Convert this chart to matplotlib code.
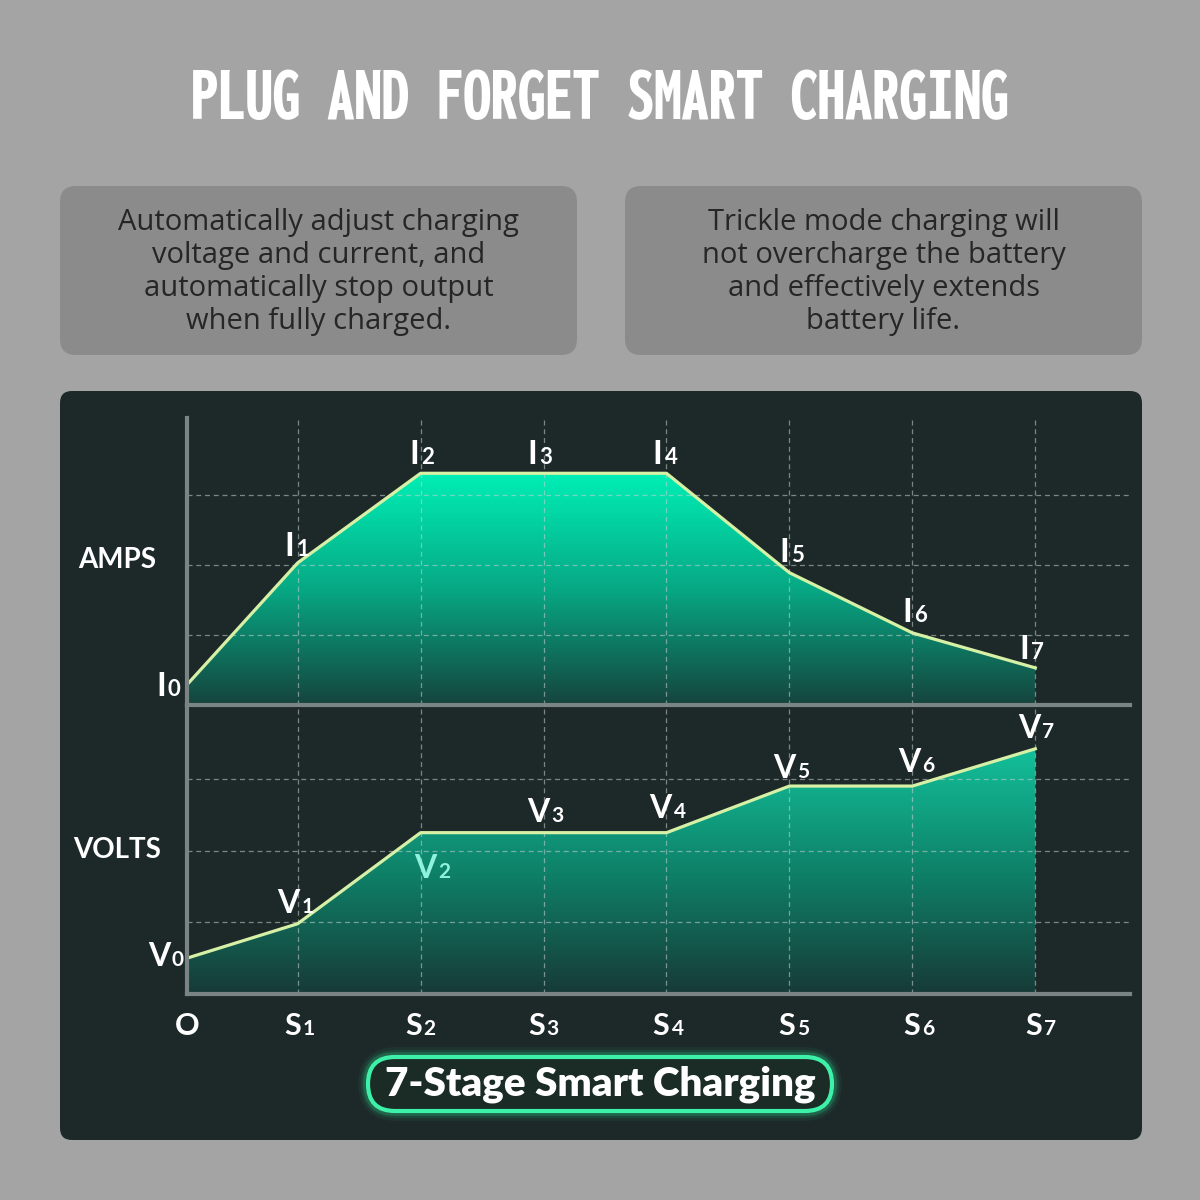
"""7-stage smart charging infographic."""

import matplotlib

matplotlib.use("Agg")
import matplotlib.pyplot as plt
import numpy as np
from matplotlib import font_manager
from matplotlib.colors import LinearSegmentedColormap
from matplotlib.patches import FancyBboxPatch, Polygon

plt.rcParams["font.family"] = ["Lato", "DejaVu Sans"]

# ---- data ----
stages = ["O", "S", "S", "S", "S", "S", "S", "S"]
stage_digits = ["", "1", "2", "3", "4", "5", "6", "7"]
stage_x = [0.1, 1, 2, 3, 4, 5, 6, 7]

amps = [0.29, 2.03, 3.31, 3.31, 3.31, 1.89, 1.03, 0.53]
volts = [0.50, 0.98, 2.25, 2.25, 2.25, 2.90, 2.90, 3.42]
point_digits = ["0", "1", "2", "3", "4", "5", "6", "7"]

title = "PLUG AND FORGET SMART CHARGING"
note_left = "Automatically adjust charging\nvoltage and current, and\nautomatically stop output\nwhen fully charged."
note_right = "Trickle mode charging will\nnot overcharge the battery\nand effectively extends\nbattery life."
badge = "7-Stage Smart Charging"

# label offsets in pixels (split point between letter and digit, baseline)
amp_offsets = [(-20, -11), (-2, 7), (0, 9), (-5, 9), (-3, 9), (1, 11), (1, 11), (-5, 9)]
volt_offsets = [(-16, -8), (3, 11), (17, -45), (7, 11), (6, 15), (7, 8), (9, 14), (6, 11)]
stage_dx = [0, 4, 2, 2, 4, 7, 9, 8]

BG = "#a4a4a4"
BOX = "#8b8b8b"
PANEL = "#1d2929"
LINE = "#d6f0a6"
AXIS = "#7b8484"
GRID = "#c9d2d2"
W = 1200


def condensed_font():
    """找一个最窄最粗的字体给标题用，没有就退回 DejaVu Sans 粗体。"""
    prefs = ["ExtraCondensedBlack", "ExtraCondensedExtraBold", "ExtraCondensedBold",
             "CondensedBlack", "Narrow-Bold", "NarrowBold", "CondensedExtraBold",
             "Condensed-Bold", "CondensedBold"]
    files = [f.fname for f in font_manager.fontManager.ttflist]
    for key in prefs:
        for fname in files:
            base = fname.rsplit("/", 1)[-1]
            if key in base and "Italic" not in base:
                return font_manager.FontProperties(fname=fname)
    return font_manager.FontProperties(family="DejaVu Sans", weight="bold")


def fit_text(fig, txt, width_px):
    fig.canvas.draw()
    w = txt.get_window_extent().width
    txt.set_fontsize(txt.get_fontsize() * width_px / w)


def sub_label(ax, x, y, letter, digit, dx, dy, big, small, color="white"):
    kw = dict(xycoords="data", textcoords="offset pixels", va="baseline",
              color=color, fontweight="bold", annotation_clip=False, zorder=6)
    ax.annotate(letter, (x, y), xytext=(dx - 1, dy), ha="right", fontsize=big, **kw)
    ax.annotate(digit, (x, y), xytext=(dx + 1, dy), ha="left", fontsize=small, **kw)


def draw_panel(ax, values, ytop, cmap):
    ax.set_facecolor("none")
    x0, x1 = 0.1, 7.77
    grad = np.linspace(0, 1, 256).reshape(-1, 1)
    im = ax.imshow(grad, extent=[stage_x[0], stage_x[-1], 0, max(values)], origin="lower",
                   aspect="auto", cmap=cmap, zorder=1)
    verts = list(zip(stage_x, values)) + [(stage_x[-1], 0), (stage_x[0], 0)]
    poly = Polygon(verts, closed=True, transform=ax.transData, facecolor="none", edgecolor="none")
    ax.add_patch(poly)
    im.set_clip_path(poly)
    ax.plot(stage_x, values, color=LINE, lw=2.3, zorder=4, solid_joinstyle="round")
    ax.set_xlim(x0, x1)
    ax.set_ylim(0, ytop)
    ax.set_xticks(stage_x[1:])
    ax.set_yticks([1, 2, 3])
    ax.tick_params(length=0, labelbottom=False, labelleft=False)
    ax.grid(True, ls=(0, (4, 3)), color=GRID, alpha=0.55, lw=0.9, zorder=2)
    ax.set_axisbelow(False)
    for side in ["top", "right"]:
        ax.spines[side].set_visible(False)
    for side in ["left", "bottom"]:
        ax.spines[side].set_color(AXIS)
        ax.spines[side].set_linewidth(3)
        ax.spines[side].set_zorder(5)


fig = plt.figure(figsize=(12, 12), dpi=100)
fig.patch.set_facecolor(BG)

bg = fig.add_axes([0, 0, 1, 1])
bg.set_xlim(0, W)
bg.set_ylim(W, 0)
bg.axis("off")

t = bg.text(600, 99, title, ha="center", va="center", color="white",
            fontproperties=condensed_font(), fontsize=56)
fit_text(fig, t, 818)

for x0, note in [(60, note_left), (625, note_right)]:
    bg.add_patch(FancyBboxPatch((x0, 186), 517, 169, boxstyle="round,pad=0,rounding_size=16",
                                fc=BOX, ec="none"))
    bg.text(x0 + 258.5, 272, note, ha="center", va="center", color="#262626",
            family=["Open Sans", "DejaVu Sans"], fontsize=21, linespacing=1.17)

bg.add_patch(FancyBboxPatch((60, 391), 1082, 749, boxstyle="round,pad=0,rounding_size=12",
                            fc=PANEL, ec="none"))

# glowing badge
for lw, a in [(14, 0.06), (10, 0.10), (7, 0.18)]:
    bg.add_patch(FancyBboxPatch((368, 1057), 464, 54, boxstyle="round,pad=0,rounding_size=27",
                                fc="none", ec="#2ef0a0", lw=lw, alpha=a))
bg.add_patch(FancyBboxPatch((368, 1057), 464, 54, boxstyle="round,pad=0,rounding_size=27",
                            fc="#1b2c27", ec="#3df2a8", lw=3))
b = bg.text(600, 1084, badge, ha="center", va="center", color="white",
            fontweight="heavy", fontsize=26)
fit_text(fig, b, 430)

bg.text(117, 560, "AMPS", ha="center", va="center", color="white", fontweight="bold", fontsize=20)
bg.text(117, 850, "VOLTS", ha="center", va="center", color="white", fontweight="bold", fontsize=20)

amp_cmap = LinearSegmentedColormap.from_list("amp", ["#15443d", "#07a884", "#00efb6"])
volt_cmap = LinearSegmentedColormap.from_list("volt", ["#173a37", "#0e8269", "#13c09a"])

ax_i = fig.add_axes([187 / W, 1 - 705 / W, 943 / W, 287 / W])
draw_panel(ax_i, amps, 287 / 70, amp_cmap)
ax_v = fig.add_axes([187 / W, 1 - 994 / W, 943 / W, 289 / W])
draw_panel(ax_v, volts, 289 / 71.7, volt_cmap)

for i, (x, y) in enumerate(zip(stage_x, amps)):
    dx, dy = amp_offsets[i]
    sub_label(ax_i, x, y, "I", point_digits[i], dx, dy, 24, 16)

for i, (x, y) in enumerate(zip(stage_x, volts)):
    dx, dy = volt_offsets[i]
    color = "#8ff2dd" if i == 2 else "white"
    sub_label(ax_v, x, y, "V", point_digits[i], dx, dy, 23, 15, color)

for i, x in enumerate(stage_x):
    if stage_digits[i]:
        sub_label(ax_v, x, 0, stages[i], stage_digits[i], stage_dx[i], -41, 22, 15)
    else:
        ax_v.annotate(stages[i], (x, 0), xytext=(0, -41), textcoords="offset pixels",
                      ha="center", va="baseline", color="white", fontweight="bold",
                      fontsize=22, annotation_clip=False)

fig.savefig("out.png", dpi=100, facecolor=fig.get_facecolor())
